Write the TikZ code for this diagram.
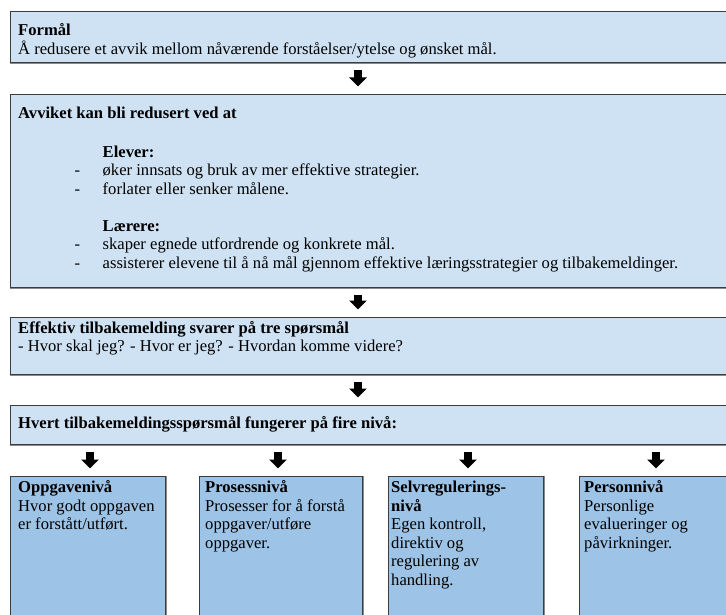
\documentclass[tikz,border=0pt]{standalone}
\usepackage{fontspec}
\setmainfont{Liberation Serif}
\usetikzlibrary{arrows.meta,shadows}
\definecolor{boxlight}{HTML}{CFE2F3}
\definecolor{boxdark}{HTML}{9DC3E6}
\definecolor{edgecol}{HTML}{3C3C3C}
\definecolor{shadecol}{HTML}{8A8A8A}
\newcommand{\bodyfont}{\fontsize{16.6}{18.5}\selectfont\lineskiplimit=-8pt}
\newcommand{\dashitem}{\makebox[28pt][l]{-}}
\begin{document}
\begin{tikzpicture}[x=1pt,y=-1pt,
  mainbox/.style={draw=edgecol, line width=0.8pt, fill=boxlight, minimum width=730pt,
    anchor=north west, inner sep=0pt, general shadow={fill=shadecol, shadow xshift=0pt, shadow yshift=-1.6pt}},
  botbox/.style={draw=edgecol, line width=0.8pt, fill=boxdark, minimum width=155pt, minimum height=170pt,
    anchor=north west, inner sep=0pt, general shadow={fill=shadecol, shadow xshift=1.2pt, shadow yshift=0pt}},
  txt/.style={anchor=north west, inner sep=0pt, align=left, font=\bodyfont},
  fatarrow/.style={line width=8pt, -{Triangle[width=17pt 0 0, length=9pt 0 0]}, shorten <=7.5pt, shorten >=7.5pt}]
\useasboundingbox (0,0) rectangle (726,615);
\clip (0,0) rectangle (726,615);
\fill[white] (0,0) rectangle (726,615);

% main boxes
\node[mainbox, minimum height=51pt] (b1) at (10,11) {};
\node[mainbox, minimum height=193pt] (b2) at (10,94) {};
\node[mainbox, minimum height=57pt] (b3) at (10,317) {};
\node[mainbox, minimum height=39pt] (b4) at (10,405) {};

% bottom boxes
\node[botbox] (c1) at (10,476) {};
\node[botbox, minimum width=163pt] (c2) at (199,476) {};
\node[botbox] (c3) at (388,476) {};
\node[botbox] (c4) at (579,476) {};

% texts
\node[txt] (t1) at (18,22.5) {\strut\textbf{Formål}\\Å redusere et avvik mellom nåværende forståelser/ytelse og ønsket mål.};
\node[txt] (t2) at (18,105) {\strut\textbf{Avviket kan bli redusert ved at}};
\node[txt] (t2b) at (74.5,144) {\strut\hspace*{28pt}\textbf{Elever:}\\
\dashitem øker innsats og bruk av mer effektive strategier.\\
\dashitem forlater eller senker målene.\\[18.5pt]
\hspace*{28pt}\textbf{Lærere:}\\
\dashitem skaper egnede utfordrende og konkrete mål.\\
\dashitem assisterer elevene til å nå mål gjennom effektive læringsstrategier og tilbakemeldinger.};
\node[txt] (t3) at (18,320) {\strut\textbf{Effektiv tilbakemelding svarer på tre spørsmål}\\- Hvor skal jeg? - Hvor er jeg? - Hvordan komme videre?};
\node[txt] (t4) at (18,415.5) {\strut\textbf{Hvert tilbakemeldingsspørsmål fungerer på fire nivå:}};

\node[txt] (u1) at (18,479.5) {\strut\textbf{Oppgavenivå}\\Hvor godt oppgaven\\er forstått/utført.};
\node[txt] (u2) at (205,479.5) {\strut\textbf{Prosessnivå}\\Prosesser for å forstå\\oppgaver/utføre\\oppgaver.};
\node[txt] (u3) at (391,479.5) {\strut\textbf{Selvregulerings-}\\\textbf{nivå}\\Egen kontroll,\\direktiv og\\regulering av\\handling.};
\node[txt] (u4) at (584,479.5) {\strut\textbf{Personnivå}\\Personlige\\evalueringer og\\påvirkninger.};

% arrows
\coordinate (ax) at (358,0);
\coordinate (a1) at (90,0);
\coordinate (a2) at (278,0);
\coordinate (a3) at (468,0);
\coordinate (a4) at (656,0);
\draw[fatarrow] (b1.south -| ax) -- (b2.north -| ax);
\draw[fatarrow] (b2.south -| ax) -- (b3.north -| ax);
\draw[fatarrow] (b3.south -| ax) -- (b4.north -| ax);
\draw[fatarrow] (b4.south -| a1) -- (c1.north -| a1);
\draw[fatarrow] (b4.south -| a2) -- (c2.north -| a2);
\draw[fatarrow] (b4.south -| a3) -- (c3.north -| a3);
\draw[fatarrow] (b4.south -| a4) -- (c4.north -| a4);
\end{tikzpicture}
\end{document}
